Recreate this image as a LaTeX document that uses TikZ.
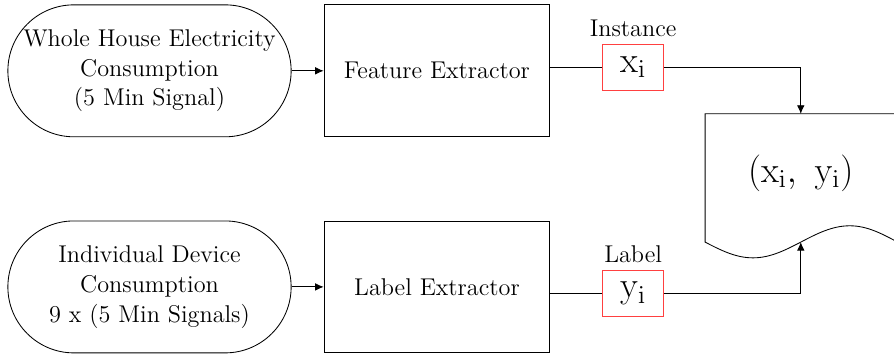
\documentclass[tikz,border=0pt]{standalone}
\usepackage{amsmath}
\usetikzlibrary{shapes,arrows,arrows.meta,positioning,calc}

\begin{document}
\begin{tikzpicture}[font=\fontsize{11.4}{14}\selectfont,
    source/.style={draw, rounded corners=1.09cm, minimum width=4.68cm, minimum height=2.18cm, align=center, inner sep=0pt},
    extractor/.style={draw, minimum width=3.73cm, minimum height=2.18cm, align=center},
    sample/.style={draw=red!75, minimum width=1.01cm, minimum height=0.76cm, inner sep=0pt, font=\fontsize{18}{22}\selectfont},
    flow/.style={-{Latex[length=4pt,width=3.6pt]}}]
\useasboundingbox (0,0) rectangle (14.77,-5.88);

% inputs and extractors
\node[source] (house) at (2.47,-1.17) {Whole House Electricity\\Consumption\\(5 Min Signal)};
\node[extractor, right=0.53cm of house] (feature) {Feature Extractor};
\node[source] (device) at (2.47,-4.74) {Individual Device\\Consumption\\9 x (5 Min Signals)};
\node[extractor, right=0.53cm of device] (labelex) {Label Extractor};

% instance and label
\node[sample] (xi) at (10.46,-1.11) {$\mathrm{x}_\mathrm{i}$};
\node[above=0pt of xi] (instance) {Instance};
\node[sample] (yi) at (10.46,-4.85) {$\mathrm{y}_\mathrm{i}$};
\node[above=0pt of yi] (label) {Label};

% training pair document
\draw (11.65,-1.88) -- (11.65,-4.00) sin (12.44,-4.26) cos (13.23,-4.00)
      sin (14.04,-3.73) cos (14.83,-4.00) -- (14.83,-1.88) -- cycle;
\node[font=\fontsize{18}{22}\selectfont] (pair) at (13.23,-2.86) {$(\mathrm{x}_\mathrm{i},\ \mathrm{y}_\mathrm{i})$};
\coordinate (pairtop) at (13.23,-1.88);
\coordinate (pairwave) at (13.23,-4.00);

% connectors
\draw[flow] (house) -- (feature);
\draw[flow] (device) -- (labelex);
\draw (feature.east |- xi) -- (xi);
\draw (labelex.east |- yi) -- (yi);
\draw[flow] (xi) -| (pairtop);
\draw[flow] (yi) -| (pairwave);
\end{tikzpicture}
\end{document}
